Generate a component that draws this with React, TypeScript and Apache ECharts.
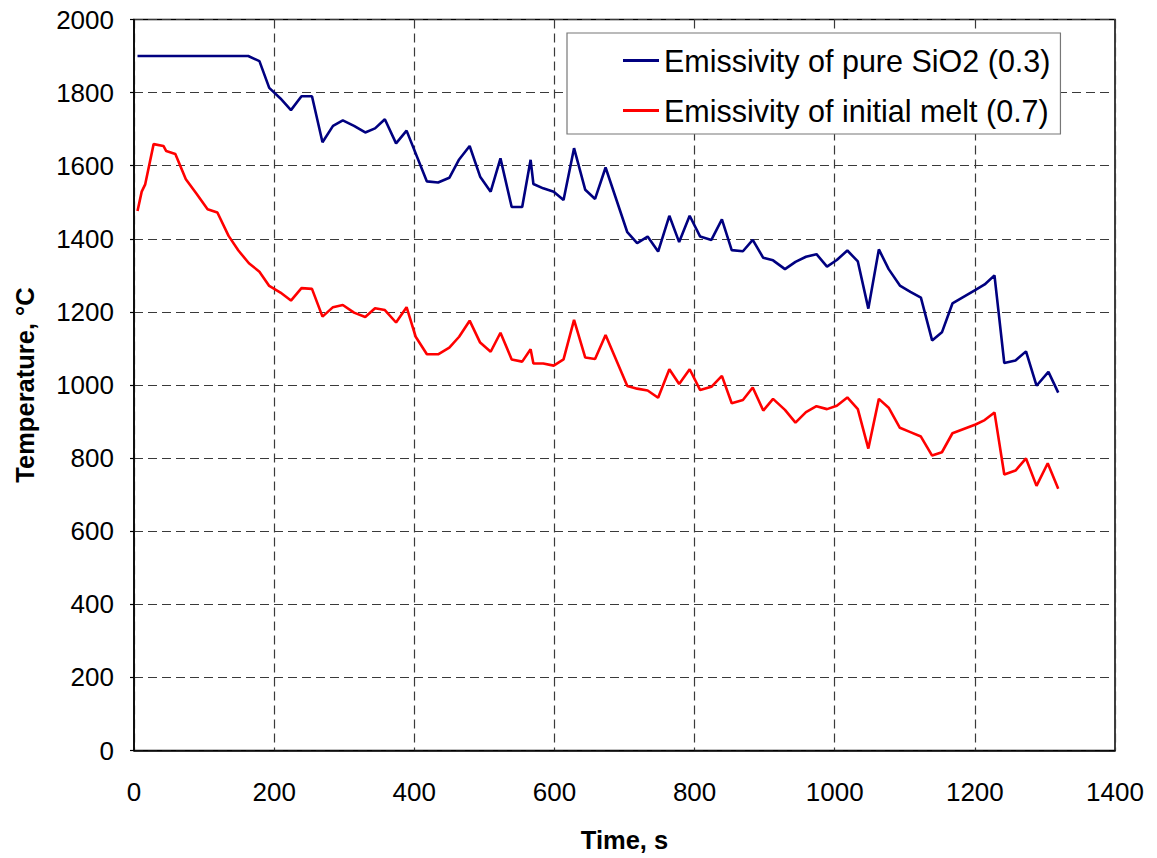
import React, { useEffect, useRef } from "react";
import * as echarts from "echarts";

const xTicks = [0, 200, 400, 600, 800, 1000, 1200, 1400];
const yTicks = [0, 200, 400, 600, 800, 1000, 1200, 1400, 1600, 1800, 2000];

const sio2Name = "Emissivity of pure SiO2 (0.3)";
const meltName = "Emissivity of initial melt (0.7)";

const sio2Time = [5, 163, 179, 193, 209, 224, 239, 254, 269, 284, 298, 314, 330, 344, 358, 374, 389, 418, 434, 450, 464, 479, 494, 509, 523, 539, 554, 566, 570, 584, 599, 613, 628, 644, 658, 673, 704, 718, 733, 748, 764, 778, 793, 808, 824, 839, 853, 869, 883, 898, 912, 929, 944, 959, 974, 989, 1003, 1018, 1033, 1048, 1063, 1077, 1093, 1108, 1123, 1139, 1153, 1168, 1201, 1214, 1228, 1242, 1258, 1273, 1288, 1305, 1319];
const sio2Temp = [1900, 1900, 1886, 1813, 1784, 1752, 1790, 1790, 1664, 1709, 1724, 1709, 1691, 1702, 1727, 1661, 1696, 1557, 1554, 1567, 1617, 1654, 1570, 1529, 1620, 1487, 1487, 1616, 1550, 1538, 1529, 1506, 1648, 1534, 1509, 1595, 1418, 1388, 1406, 1365, 1463, 1391, 1463, 1406, 1397, 1453, 1369, 1366, 1397, 1348, 1341, 1317, 1337, 1351, 1358, 1324, 1342, 1368, 1338, 1209, 1371, 1317, 1272, 1255, 1239, 1122, 1144, 1223, 1260, 1275, 1300, 1060, 1067, 1092, 998, 1036, 979];

const meltTime = [5, 11, 16, 28, 42, 46, 59, 74, 89, 105, 119, 135, 149, 164, 179, 193, 209, 224, 239, 254, 269, 284, 298, 314, 330, 344, 358, 374, 389, 402, 418, 434, 450, 464, 479, 494, 509, 523, 539, 554, 566, 570, 584, 599, 613, 628, 644, 658, 673, 704, 718, 733, 748, 764, 778, 793, 808, 824, 839, 853, 869, 883, 898, 912, 929, 944, 959, 974, 989, 1003, 1018, 1033, 1048, 1063, 1077, 1093, 1108, 1123, 1139, 1153, 1168, 1201, 1214, 1228, 1242, 1258, 1273, 1288, 1304, 1319];
const meltTemp = [1476, 1529, 1549, 1659, 1654, 1640, 1632, 1563, 1524, 1481, 1472, 1408, 1368, 1333, 1310, 1271, 1253, 1231, 1265, 1263, 1187, 1213, 1219, 1198, 1186, 1210, 1205, 1171, 1213, 1132, 1084, 1084, 1102, 1132, 1176, 1116, 1091, 1143, 1070, 1064, 1098, 1059, 1059, 1053, 1070, 1178, 1075, 1071, 1137, 997, 990, 985, 965, 1043, 1003, 1043, 986, 995, 1025, 950, 959, 993, 930, 962, 932, 897, 926, 942, 934, 943, 966, 934, 826, 962, 938, 883, 871, 859, 807, 816, 868, 892, 904, 925, 755, 766, 799, 724, 786, 716];

const FONT = "'Liberation Sans', Arial, sans-serif";

export default function App() {
  const ref = useRef<HTMLDivElement>(null);
  useEffect(() => {
    document.body.style.margin = "0";
    if (!ref.current) return;
    const chart = echarts.init(ref.current, null, { renderer: "svg" });
    const gridLine = { show: true, lineStyle: { color: "#3a3a3a", width: 1.2, type: [9, 5] as any } };
    chart.setOption({
      animation: false,
      backgroundColor: "#ffffff",
      textStyle: { fontFamily: FONT },
      grid: {
        left: 134,
        right: 42,
        top: 19.5,
        bottom: 107.5,
        show: true,
        borderColor: "#000",
        borderWidth: 1.5,
        backgroundColor: "transparent",
      },
      legend: {
        orient: "vertical",
        left: 567,
        top: 33,
        padding: [12, 10, 8, 56],
        itemGap: 19,
        itemWidth: 36,
        itemHeight: 3,
        backgroundColor: "#fff",
        borderColor: "#777",
        borderWidth: 1.2,
        borderRadius: 0,
        textStyle: { fontSize: 30.5, color: "#000", fontFamily: FONT, padding: [0, 0, 0, 0] },
        data: [
          { name: sio2Name, icon: "rect" },
          { name: meltName, icon: "rect" },
        ],
      },
      xAxis: {
        type: "value",
        min: xTicks[0],
        max: xTicks[xTicks.length - 1],
        interval: 200,
        name: "Time, s",
        nameLocation: "middle",
        nameGap: 76,
        nameTextStyle: { fontSize: 25.5, fontWeight: "bold", color: "#000", fontFamily: FONT },
        axisLine: { show: true, lineStyle: { color: "#000", width: 1.5 } },
        axisTick: { show: false },
        axisLabel: { fontSize: 26, color: "#000", margin: 28, fontFamily: FONT, formatter: (v: number) => String(v) },
        splitLine: gridLine,
      },
      yAxis: {
        type: "value",
        min: yTicks[0],
        max: yTicks[yTicks.length - 1],
        interval: 200,
        name: "Temperature, °C",
        nameLocation: "middle",
        nameGap: 96,
        nameTextStyle: { fontSize: 25.5, fontWeight: "bold", color: "#000", fontFamily: FONT },
        axisLine: { show: true, lineStyle: { color: "#000", width: 1.5 } },
        axisTick: { show: true, length: 4, lineStyle: { color: "#000", width: 1.2 } },
        axisLabel: { fontSize: 26, color: "#000", margin: 20, fontFamily: FONT, formatter: (v: number) => String(v) },
        splitLine: gridLine,
      },
      series: [
        {
          name: sio2Name,
          type: "line",
          symbol: "none",
          color: "#000080",
          lineStyle: { color: "#000080", width: 2.6 },
          data: sio2Time.map((t, i) => [t, sio2Temp[i]]),
          z: 3,
        },
        {
          name: meltName,
          type: "line",
          symbol: "none",
          color: "#ff0000",
          lineStyle: { color: "#ff0000", width: 2.6 },
          data: meltTime.map((t, i) => [t, meltTemp[i]]),
          z: 3,
        },
      ],
    });
    return () => chart.dispose();
  }, []);
  return <div ref={ref} style={{ width: 1157, height: 858 }} />;
}
